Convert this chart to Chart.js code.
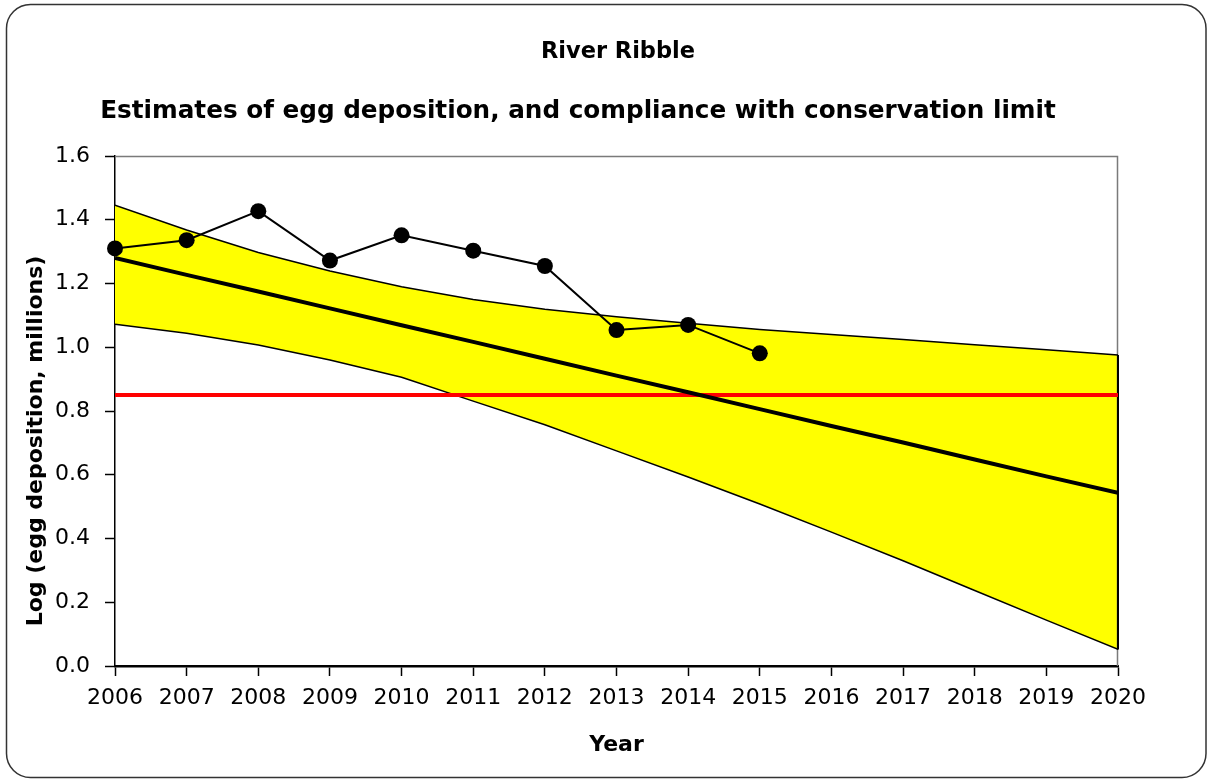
<!DOCTYPE html>
<html>
<head>
<meta charset="utf-8">
<title>River Ribble</title>
<script src="https://cdn.jsdelivr.net/npm/chart.js@4.4.1/dist/chart.umd.min.js"></script>
<style>
  html, body { margin: 0; padding: 0; background: #fff; }
  #eggChart { display: block; }
</style>
</head>
<body>
<canvas id="eggChart" width="1208" height="780"></canvas>
<script>
// years on the x axis
var years = [2006, 2007, 2008, 2009, 2010, 2011, 2012, 2013, 2014, 2015, 2016, 2017, 2018, 2019, 2020];
var observedYears = [2006, 2007, 2008, 2009, 2010, 2011, 2012, 2013, 2014, 2015];

// log egg deposition estimates (millions)
var observed = [1.310, 1.336, 1.427, 1.272, 1.351, 1.303, 1.255, 1.054, 1.070, 0.981];

// fitted trend and its confidence band, 2006-2020
var trend = [1.280, 1.227, 1.175, 1.122, 1.069, 1.017, 0.964, 0.911, 0.859, 0.806, 0.753, 0.701, 0.648, 0.595, 0.543];
var upper = [1.446, 1.368, 1.297, 1.239, 1.190, 1.150, 1.119, 1.096, 1.075, 1.056, 1.040, 1.024, 1.008, 0.992, 0.976];
var lower = [1.072, 1.044, 1.007, 0.960, 0.906, 0.831, 0.757, 0.675, 0.593, 0.508, 0.420, 0.330, 0.237, 0.144, 0.052];

// conservation limit
var conservationLimit = 0.85;

var yTicks = [0, 0.2, 0.4, 0.6, 0.8, 1.0, 1.2, 1.4, 1.6];

function pairs(xs, ys) {
  var out = [];
  for (var i = 0; i < ys.length; i++) {
    out.push({ x: xs[i], y: ys[i] });
  }
  return out;
}

var last = years.length - 1;

Chart.defaults.font.family = "'DejaVu Sans', sans-serif";
Chart.defaults.color = "#000";

// outer frame, plot box and the text headings
var framePlugin = {
  id: "frame",
  beforeDraw: function(chart) {
    var ctx = chart.ctx;
    ctx.save();
    ctx.fillStyle = "#fff";
    ctx.fillRect(0, 0, chart.width, chart.height);
    ctx.beginPath();
    ctx.roundRect(6.5, 4.5, 1199.5, 773, 24);
    ctx.lineWidth = 1.5;
    ctx.strokeStyle = "#333";
    ctx.stroke();
    ctx.restore();
  },
  beforeDatasetsDraw: function(chart) {
    var a = chart.chartArea;
    var ctx = chart.ctx;
    ctx.save();
    ctx.strokeStyle = "#7a7a7a";
    ctx.lineWidth = 1.5;
    ctx.beginPath();
    ctx.moveTo(a.left, a.top + 0.5);
    ctx.lineTo(a.right - 0.5, a.top + 0.5);
    ctx.lineTo(a.right - 0.5, a.bottom);
    ctx.stroke();
    ctx.restore();
  },
  afterDraw: function(chart) {
    var ctx = chart.ctx;
    ctx.save();
    ctx.fillStyle = "#000";
    ctx.textAlign = "center";
    ctx.textBaseline = "alphabetic";
    ctx.font = "bold 22.5px 'DejaVu Sans', sans-serif";
    ctx.fillText("River Ribble", 618, 58);
    ctx.font = "bold 24.7px 'DejaVu Sans', sans-serif";
    ctx.fillText("Estimates of egg deposition, and compliance with conservation limit", 578, 118);

    ctx.translate(42, 441);
    ctx.rotate(-Math.PI / 2);
    ctx.font = "bold 22px 'DejaVu Sans', sans-serif";
    ctx.fillText("Log (egg deposition, millions)", 0, 0);
    ctx.restore();
  }
};

var ctx = document.getElementById("eggChart");

var chart = new Chart(ctx, {
  type: "line",
  data: {
    datasets: [
      {
        label: "Estimated egg deposition",
        data: pairs(observedYears, observed),
        borderColor: "#000",
        borderWidth: 2,
        pointRadius: 8,
        pointBackgroundColor: "#000",
        pointBorderWidth: 0,
        fill: false,
        clip: false
      },
      {
        label: "Trend",
        data: pairs(years, trend),
        borderColor: "#000",
        borderWidth: 4,
        pointRadius: 0,
        fill: false
      },
      {
        label: "Conservation limit",
        data: [{ x: years[0], y: conservationLimit }, { x: years[last], y: conservationLimit }],
        borderColor: "#ff0000",
        borderWidth: 4,
        pointRadius: 0,
        fill: false
      },
      {
        label: "Upper",
        data: pairs(years, upper),
        borderColor: "#000",
        borderWidth: 1.5,
        pointRadius: 0,
        backgroundColor: "#ffff00",
        fill: "+1"
      },
      {
        label: "Lower",
        data: pairs(years, lower),
        borderColor: "#000",
        borderWidth: 1.5,
        pointRadius: 0,
        fill: false
      },
      {
        // closes the band at the last year
        label: "Band edge",
        data: [{ x: years[last], y: upper[last] }, { x: years[last], y: lower[last] }],
        borderColor: "#000",
        borderWidth: 2,
        pointRadius: 0,
        fill: false,
        clip: false
      }
    ]
  },
  options: {
    responsive: false,
    animation: false,
    layout: {
      padding: { top: 156, right: 90, bottom: 0, left: 0 }
    },
    plugins: {
      legend: { display: false },
      tooltip: { enabled: false },
      filler: { drawTime: "beforeDatasetsDraw" }
    },
    scales: {
      x: {
        type: "linear",
        min: years[0],
        max: years[last],
        afterFit: function(scale) { scale.height = 114; },
        afterBuildTicks: function(scale) {
          scale.ticks = years.map(function(v) { return { value: v }; });
        },
        ticks: {
          font: { size: 22 },
          padding: 9,
          maxRotation: 0,
          autoSkip: false,
          callback: function(v) { return String(v); }
        },
        grid: {
          drawOnChartArea: false,
          tickLength: 10,
          tickColor: "#000",
          tickWidth: 1.5
        },
        border: { color: "#000", width: 2.5 },
        title: {
          display: true,
          text: "Year",
          font: { size: 22, weight: "bold" },
          padding: { top: 0, bottom: 22 }
        }
      },
      y: {
        min: 0,
        max: 1.6,
        afterFit: function(scale) { scale.width = 115; },
        afterBuildTicks: function(scale) {
          scale.ticks = yTicks.map(function(v) { return { value: v }; });
        },
        ticks: {
          font: { size: 22 },
          padding: 15,
          callback: function(v) { return v.toFixed(1); }
        },
        grid: {
          drawOnChartArea: false,
          tickLength: 10,
          tickColor: "#000",
          tickWidth: 1.5
        },
        border: { color: "#000", width: 1.5 }
      }
    }
  },
  plugins: [framePlugin]
});
</script>
</body>
</html>
